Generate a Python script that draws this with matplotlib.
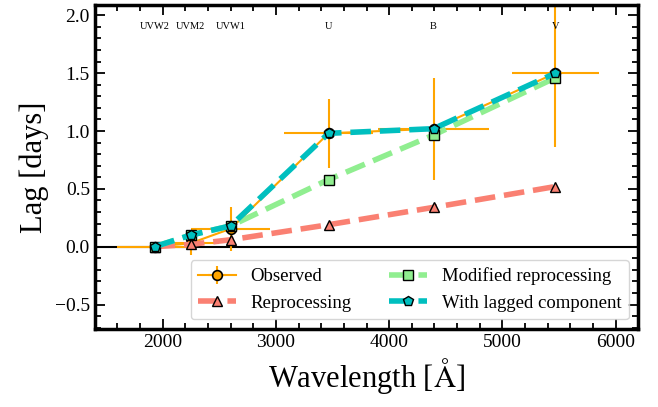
import numpy as np
import matplotlib
matplotlib.use("Agg")
import matplotlib.pyplot as plt

# Swift filter central wavelengths [A] and half widths
filters = ["UVW2", "UVM2", "UVW1", "U", "B", "V"]
wavelength = np.array([1928, 2246, 2600, 3465, 4392, 5468])
half_width = np.array([328, 249, 346, 392, 488, 384])

# lags relative to UVW2 [days]
lag_obs = np.array([0.0, 0.03, 0.155, 0.98, 1.02, 1.50])
lag_err = np.array([0.0, 0.10, 0.19, 0.30, 0.44, 0.64])
lag_reproc = np.array([0.0, 0.02, 0.06, 0.19, 0.34, 0.52])
lag_mod_reproc = np.array([0.0, 0.10, 0.18, 0.58, 0.965, 1.46])
lag_lagged = np.array([0.0, 0.10, 0.18, 0.98, 1.02, 1.50])

plt.rcParams['font.family'] = ['Liberation Serif', 'DejaVu Serif']
plt.rcParams['mathtext.fontset'] = 'stix'

fig = plt.figure(figsize=(6.58, 4.07), dpi=100)
ax = fig.add_axes([0.144, 0.192, 0.826, 0.796])

ax.axhline(0, color='k', lw=1.5, zorder=1)

h_obs = ax.errorbar(wavelength, lag_obs, xerr=half_width, yerr=lag_err, fmt='-o', color='orange',
                    ecolor='orange', elinewidth=1.5, lw=1.5, ms=7, mec='k', mew=1.2, capsize=0,
                    label='Observed', zorder=2)
h_rep, = ax.plot(wavelength, lag_reproc, '--^', color='salmon', lw=4, ms=7, mec='k', mew=1.0,
                 label='Reprocessing', zorder=3)
h_mod, = ax.plot(wavelength, lag_mod_reproc, '--s', color='lightgreen', lw=4, ms=7, mec='k', mew=1.0,
                 label='Modified reprocessing', zorder=4)
h_lag, = ax.plot(wavelength, lag_lagged, '--p', color='c', lw=4, ms=7, mec='k', mew=1.0,
                 label='With lagged component', zorder=5)

for name, wl in zip(filters, wavelength):
    ax.text(wl, 1.9, name, ha='center', va='center', fontsize=7.5)

ax.set_xlim(1400, 6200)
ax.set_ylim(-0.71, 2.09)
ax.set_xticks([2000, 3000, 4000, 5000, 6000])
ax.set_xticks(np.arange(1400, 6201, 200), minor=True)
ax.set_yticks([-0.5, 0.0, 0.5, 1.0, 1.5, 2.0])
ax.set_yticks(np.arange(-0.7, 2.09, 0.1), minor=True)
ax.tick_params(which='both', direction='in', top=True, right=True, labelsize=14, width=1.3)
ax.tick_params(which='major', length=7)
ax.tick_params(which='minor', length=4)
for sp in ax.spines.values():
    sp.set_linewidth(2.5)

ax.set_xlabel(r"Wavelength [$\mathrm{\AA}$]", fontsize=22)
ax.set_ylabel("Lag [days]", fontsize=22)

ax.legend([h_obs, h_rep, h_mod, h_lag],
          ['Observed', 'Reprocessing', 'Modified reprocessing', 'With lagged component'],
          loc='lower right', ncol=2, fontsize=13.5)

fig.savefig("out.png", dpi=100)
